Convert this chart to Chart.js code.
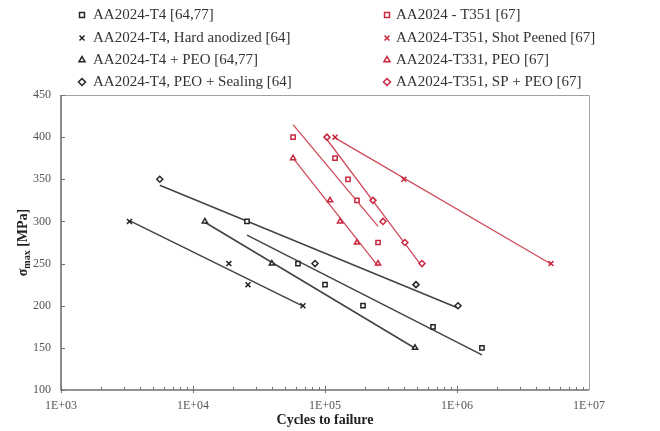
<!DOCTYPE html>
<html>
<head>
<meta charset="utf-8">
<script src="https://cdn.jsdelivr.net/npm/chart.js"></script>
<style>
html, body { margin: 0; padding: 0; background: #fff; }
canvas { display: block; }
</style>
</head>
<body>
<canvas id="sn" width="660" height="431"></canvas>
<script>
// S-N data: cycles to failure and max stress [MPa]
const t4N = [25650, 62400, 100000, 194000, 658000, 1545000];
const t4S = [300, 250, 225, 200, 175, 150];
const haN = [3300, 18700, 26100, 68100];
const haS = [300, 250, 225, 200];
const peoN = [12300, 39600, 481000];
const peoS = [300, 250, 150];
const sealN = [5600, 84000, 489000, 1018000];
const sealS = [350, 250, 225, 200];

const t351N = [57300, 119100, 149400, 174700, 252300];
const t351S = [400, 375, 350, 325, 275];
const spN = [119100, 396000, 5150000];
const spS = [400, 350, 250];
const t351PeoN = [57300, 109200, 130000, 174700, 252300];
const t351PeoS = [375, 325, 300, 275, 250];
const spPeoN = [103500, 231000, 275000, 403000, 543000];
const spPeoS = [400, 325, 300, 275, 250];

const xTicks = [1e3, 1e4, 1e5, 1e6, 1e7];
const yTicks = [100, 150, 200, 250, 300, 350, 400, 450];

const BLACK = '#262626';
const BLACK_LINE = '#444';
const RED = '#c9283f';
const RED_LINE = '#d04a5b';
const SERIF = '"Liberation Serif", "Times New Roman", serif';

const series = [
    { label: 'AA2024-T4 [64,77]', n: t4N, s: t4S, style: 'rect', col: 0 },
    { label: 'AA2024-T4, Hard anodized [64]', n: haN, s: haS, style: 'crossRot', col: 0 },
    { label: 'AA2024-T4 + PEO [64,77]', n: peoN, s: peoS, style: 'triangle', col: 0 },
    { label: 'AA2024-T4, PEO + Sealing [64]', n: sealN, s: sealS, style: 'rectRot', col: 0 },
    { label: 'AA2024 - T351 [67]', n: t351N, s: t351S, style: 'rect', col: 1 },
    { label: 'AA2024-T351, Shot Peened [67]', n: spN, s: spS, style: 'crossRot', col: 1 },
    { label: 'AA2024-T331, PEO [67]', n: t351PeoN, s: t351PeoS, style: 'triangle', col: 1 },
    { label: 'AA2024-T351, SP + PEO [67]', n: spPeoN, s: spPeoS, style: 'rectRot', col: 1 }
];

// logarithmic trend line: S = a + b*log10(N), drawn between the smallest and largest N
function trend(n, s) {
    const lx = n.map(v => Math.log10(v));
    const mx = lx.reduce((a, b) => a + b, 0) / lx.length;
    const my = s.reduce((a, b) => a + b, 0) / s.length;
    let sxy = 0, sxx = 0;
    lx.forEach((x, i) => { sxy += (x - mx) * (s[i] - my); sxx += (x - mx) * (x - mx); });
    const b = sxy / sxx, a = my - b * mx;
    const lo = Math.min(...n), hi = Math.max(...n);
    return [{ x: lo, y: a + b * Math.log10(lo) }, { x: hi, y: a + b * Math.log10(hi) }];
}

const datasets = [];
series.forEach(ser => {
    const c = ser.col ? RED : BLACK;
    datasets.push({
        type: 'scatter',
        label: ser.label,
        data: ser.n.map((v, i) => ({ x: v, y: ser.s[i] })),
        pointStyle: ser.style,
        pointRadius: ser.style === 'crossRot' ? 3.5 : 3,
        borderColor: c,
        backgroundColor: '#fff',
        pointBorderWidth: 1.5,
        order: 0
    });
    datasets.push({
        type: 'line',
        label: ser.label + ' trend',
        data: trend(ser.n, ser.s),
        borderColor: ser.col ? RED_LINE : BLACK_LINE,
        borderWidth: ser.col ? 1.3 : 1.6,
        pointRadius: 0,
        fill: false,
        order: 1
    });
});

// axes frame, tick marks, axis titles and the two-column legend
const decor = {
    id: 'decor',
    afterDraw(chart) {
        const { ctx, chartArea: a, scales } = chart;
        const xs = scales.x, ys = scales.y;
        ctx.save();
        ctx.strokeStyle = '#a0a0a0';
        ctx.lineWidth = 1;
        ctx.beginPath();
        ctx.moveTo(a.left, a.top + 0.5); ctx.lineTo(a.right + 0.5, a.top + 0.5);
        ctx.lineTo(a.right + 0.5, a.bottom);
        ctx.stroke();

        ctx.strokeStyle = '#707070';
        ctx.lineWidth = 1.6;
        ctx.beginPath();
        ctx.moveTo(a.left, a.top); ctx.lineTo(a.left, a.bottom); ctx.lineTo(a.right, a.bottom);
        ctx.stroke();

        ctx.lineWidth = 1;
        ctx.beginPath();
        yTicks.forEach(v => {
            const y = Math.round(ys.getPixelForValue(v)) + 0.5;
            ctx.moveTo(a.left, y); ctx.lineTo(a.left + 4, y);
        });
        for (let d = 3; d < 7; d++) {
            for (let m = 1; m < 10; m++) {
                const x = Math.round(xs.getPixelForValue(m * Math.pow(10, d))) + 0.5;
                if (m === 1) { ctx.moveTo(x, a.bottom - 4); ctx.lineTo(x, a.bottom + 3); }
                else { ctx.moveTo(x, a.bottom - 3); ctx.lineTo(x, a.bottom); }
            }
        }
        ctx.stroke();

        // axis titles
        ctx.fillStyle = '#222';
        ctx.font = 'bold 14px ' + SERIF;
        ctx.textAlign = 'center';
        ctx.textBaseline = 'middle';
        ctx.fillText('Cycles to failure', (a.left + a.right) / 2, 420);

        ctx.save();
        ctx.translate(22, (a.top + a.bottom) / 2);
        ctx.rotate(-Math.PI / 2);
        ctx.textAlign = 'left';
        ctx.textBaseline = 'alphabetic';
        const big = 'bold 14px ' + SERIF, small = 'bold 10px ' + SERIF;
        ctx.font = big; const w1 = ctx.measureText('σ').width;
        ctx.font = small; const w2 = ctx.measureText('max').width;
        ctx.font = big; const w3 = ctx.measureText(' [MPa]').width;
        let x0 = -(w1 + w2 + w3) / 2;
        ctx.font = big; ctx.fillText('σ', x0, 5);
        ctx.font = small; ctx.fillText('max', x0 + w1, 8);
        ctx.font = big; ctx.fillText(' [MPa]', x0 + w1 + w2, 5);
        ctx.restore();

        // legend
        const colX = [[82, 93], [387, 396]];
        const rowY = [15, 38, 60, 82];
        ctx.font = '15px ' + SERIF;
        ctx.textAlign = 'left';
        ctx.textBaseline = 'middle';
        series.forEach((ser, i) => {
            const [mx, tx] = colX[ser.col];
            const y = rowY[i % 4];
            const c = ser.col ? RED : BLACK;
            ctx.strokeStyle = c;
            ctx.fillStyle = '#fff';
            ctx.lineWidth = 1.5;
            Chart.helpers.drawPoint(ctx, {
                pointStyle: ser.style, radius: 3.5, rotation: 0, borderWidth: 1.5
            }, mx, y);
            ctx.fillStyle = '#333';
            ctx.fillText(ser.label, tx, y);
        });
        ctx.restore();
    }
};

new Chart(document.getElementById('sn'), {
    data: { datasets: datasets },
    options: {
        responsive: false,
        animation: false,
        layout: { padding: { top: 95, right: 71, left: 0, bottom: 0 } },
        plugins: { legend: { display: false }, tooltip: { enabled: false } },
        scales: {
            x: {
                type: 'logarithmic',
                min: 1e3,
                max: 1e7,
                afterBuildTicks: s => { s.ticks = xTicks.map(v => ({ value: v })); },
                afterFit: s => { s.height = 41; },
                grid: { display: false, drawTicks: false },
                border: { display: false },
                ticks: {
                    padding: 9,
                    color: '#555',
                    font: { family: SERIF, size: 12 },
                    maxRotation: 0,
                    callback: v => '1E+' + String(Math.round(Math.log10(v))).padStart(2, '0')
                }
            },
            y: {
                type: 'linear',
                min: 100,
                max: 450,
                afterBuildTicks: s => { s.ticks = yTicks.map(v => ({ value: v })); },
                afterFit: s => { s.width = 61; },
                grid: { display: false, drawTicks: false },
                border: { display: false },
                ticks: {
                    padding: 10,
                    color: '#555',
                    font: { family: SERIF, size: 12 }
                }
            }
        }
    },
    plugins: [decor]
});
</script>
</body>
</html>
